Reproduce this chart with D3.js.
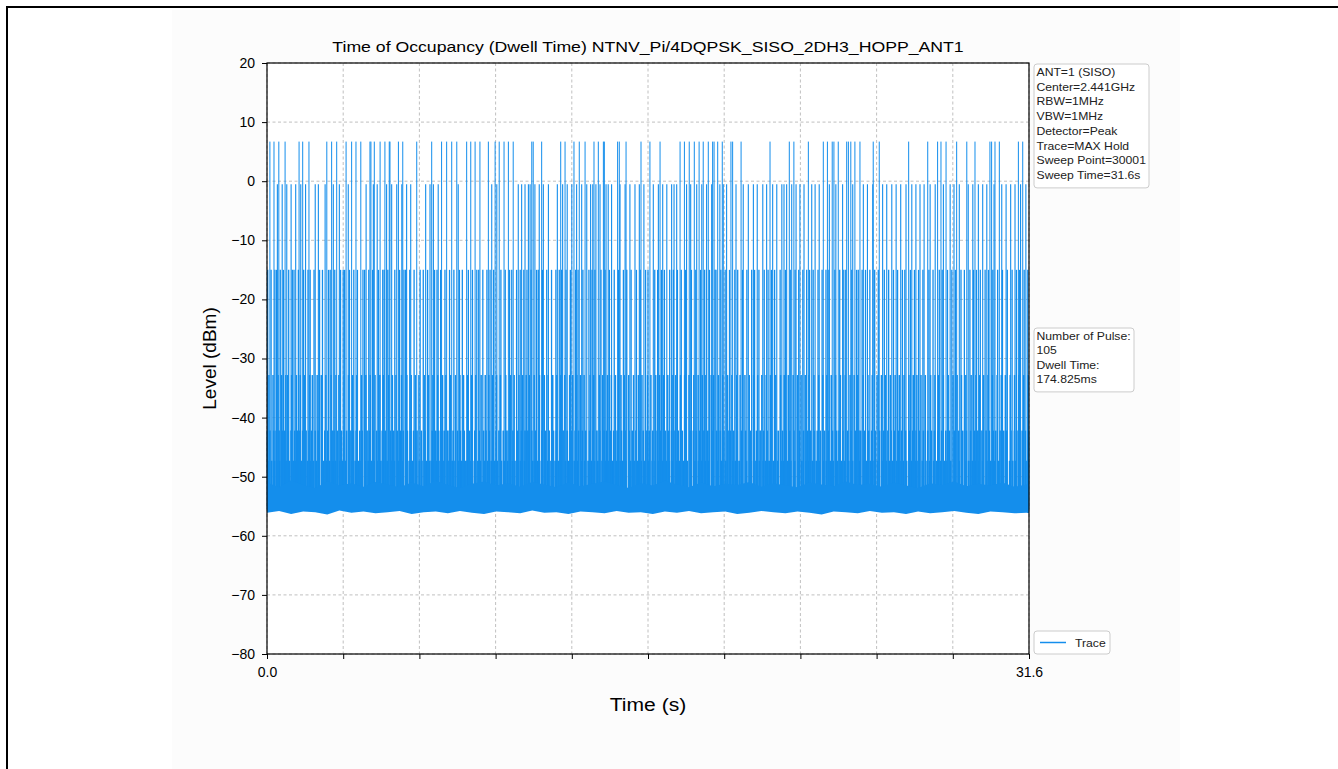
<!DOCTYPE html>
<html>
<head>
  <meta charset="utf-8">
  <script src="https://d3js.org/d3.v7.min.js"></script>
  <style>
    body { margin: 0; background: #fff; }
    * { font-family: 'Liberation Sans', Arial, sans-serif; }
  </style>
</head>
<body>
<div id="chart"></div>
<script>
  "use strict";

  // pulse start times (s), grouped by the level the trace reaches
  const peakTimes = [0.12,0.29,0.49,0.75,1.33,1.48,1.74,2.48,2.68,2.89,3.28,3.51,3.69,3.89,4.27,4.31,4.45,4.69,4.89,5.07,5.10,5.45,5.63,6.21,6.83,7.24,7.45,7.66,7.87,8.28,8.45,8.63,8.83,9.18,9.46,9.63,9.83,10.01,10.21,10.98,11.04,11.39,12.18,12.36,12.73,12.95,13.19,13.56,13.74,13.95,13.99,14.54,14.61,14.89,15.51,15.88,16.30,17.13,17.31,17.51,17.72,17.92,18.09,18.30,18.48,18.54,18.69,18.88,19.24,19.31,19.66,20.86,21.66,21.85,22.45,23.07,23.24,23.44,23.51,23.69,24.04,24.11,24.21,24.38,24.59,25.14,25.39,26.61,27.40,27.81,27.95,28.16,28.60,29.02,29.36,29.98,30.05,30.19,30.37,31.16,31.34];
  const nearTimes = [0.43,0.63,0.82,1.00,1.19,1.40,1.60,2.00,2.13,2.41,2.75,3.00,3.37,4.11,4.41,4.57,4.96,5.17,5.38,5.59,5.79,5.96,6.58,6.76,6.90,7.10,7.93,9.32,9.53,10.42,10.56,10.70,10.84,10.91,11.11,11.29,11.46,11.67,12.04,12.26,12.45,12.64,12.84,13.05,13.26,13.42,13.51,13.64,13.81,14.06,14.15,14.29,14.64,14.85,15.05,15.26,15.44,15.63,16.02,16.23,16.41,16.58,16.78,16.88,16.99,17.40,17.57,17.82,18.03,18.23,18.44,18.78,18.92,19.06,19.45,19.75,19.96,20.17,20.33,20.56,20.72,20.97,21.14,21.35,21.44,21.55,21.76,21.94,22.10,22.27,22.59,22.73,22.90,23.32,23.59,23.87,24.29,24.73,24.90,25.12,25.53,25.70,25.91,26.09,26.28,26.50,26.74,26.91,27.08,27.25,27.50,27.71,28.05,28.33,28.49,28.71,29.08,29.27,29.50,29.68,29.85,30.15,30.47,30.65,30.84,31.02,31.25,31.47];
  const sideTimes = [0.03,0.17,0.33,0.40,0.55,0.68,0.90,1.05,1.12,1.30,1.52,1.70,1.79,1.95,2.18,2.30,2.55,2.62,2.81,3.05,3.16,3.22,3.42,3.60,3.75,3.98,4.05,4.22,4.38,4.62,4.80,4.86,5.01,5.30,5.50,5.68,5.75,5.92,6.10,6.35,6.48,6.66,6.95,7.05,7.20,7.38,7.57,7.75,7.98,8.10,8.35,8.52,8.70,8.78,8.95,9.12,9.25,9.40,9.70,9.88,10.06,10.15,10.35,10.50,10.65,10.78,10.95,11.18,11.25,11.42,11.60,11.80,11.98,12.12,12.22,12.40,12.58,12.80,12.90,13.10,13.35,13.48,13.60,13.85,14.02,14.20,14.40,14.58,14.78,14.92,15.10,15.32,15.48,15.70,15.80,16.08,16.20,16.36,16.48,16.70,16.85,17.02,17.18,17.36,17.60,17.78,17.98,18.15,18.35,18.58,18.62,18.82,19.00,19.18,19.40,19.52,19.72,19.90,20.10,20.22,20.40,20.62,20.78,20.92,21.05,21.28,21.50,21.70,21.90,22.05,22.22,22.38,22.50,22.65,22.85,23.02,23.18,23.30,23.55,23.75,23.92,24.00,24.25,24.45,24.52,24.68,24.82,25.00,25.20,25.35,25.60,25.78,25.98,26.15,26.35,26.45,26.68,26.85,27.02,27.20,27.45,27.62,27.88,28.00,28.22,28.40,28.55,28.78,28.92,29.15,29.30,29.42,29.58,29.78,29.92,30.10,30.30,30.50,30.70,30.90,31.08,31.20,31.40,31.55];
  const deepTimes = [0.08,0.25,0.46,0.60,0.78,0.86,1.02,1.22,1.38,1.56,1.77,1.88,2.08,2.25,2.44,2.66,2.86,2.98,3.20,3.38,3.55,3.72,3.92,4.10,4.28,4.48,4.68,4.82,5.05,5.20,5.35,5.58,5.80,5.98,6.15,6.30,6.52,6.70,6.88,7.08,7.28,7.42,7.62,7.82,8.00,8.15,8.32,8.48,8.66,8.88,9.05,9.20,9.35,9.52,9.68,9.90,10.10,10.25,10.45,10.60,10.75,10.88,11.08,11.30,11.50,11.66,11.85,12.02,12.18,12.35,12.55,12.68,12.85,13.00,13.15,13.40,13.55,13.78,13.92,14.12,14.28,14.45,14.68,14.82,15.00,15.20,15.40,15.55,15.78,15.92,16.12,16.28,16.45,16.62,16.80,16.95,17.15,17.32,17.50,17.70,17.88,18.05,18.20,18.42,18.52,18.72,18.90,19.10,19.28,19.48,19.62,19.82,20.00,20.18,20.35,20.52,20.70,20.88,21.10,21.30,21.45,21.62,21.82,22.00,22.15,22.32,22.48,22.68,22.88,23.05,23.22,23.40,23.58,23.78,23.98,24.18,24.35,24.50,24.72,24.92,25.10,25.30,25.48,25.65,25.85,26.05,26.22,26.42,26.62,26.80,26.95,27.12,27.30,27.52,27.70,27.85,28.05,28.25,28.45,28.62,28.80,28.98,29.20,29.40,29.55,29.72,29.90,30.08,30.28,30.45,30.62,30.82,31.00,31.18,31.38,31.56];
  const midTimes = [0.02,0.12,0.28,0.38,0.50,0.65,0.74,0.88,1.00,1.15,1.25,1.35,1.48,1.62,1.74,1.85,2.00,2.12,2.28,2.40,2.52,2.70,2.78,2.92,3.08,3.18,3.30,3.48,3.58,3.70,3.85,3.95,4.15,4.25,4.40,4.55,4.65,4.78,4.90,5.12,5.25,5.40,5.55,5.65,5.82,5.95,6.08,6.22,6.40,6.55,6.68,6.85,7.00,7.12,7.25,7.35,7.50,7.60,7.72,7.90,8.02,8.18,8.40,8.50,8.62,8.80,8.98,9.08,9.22,9.38,9.50,9.62,9.80,9.95,10.05,10.20,10.40,10.55,10.70,10.82,10.98,11.15,11.28,11.40,11.55,11.70,11.88,12.00,12.15,12.28,12.45,12.62,12.78,12.92,13.08,13.22,13.38,13.52,13.68,13.80,13.98,14.08,14.25,14.38,14.52,14.70,14.85,15.02,15.15,15.30,15.45,15.60,15.72,15.85,16.00,16.18,16.32,16.52,16.65,16.78,16.92,17.05,17.22,17.38,17.55,17.68,17.80,17.95,18.12,18.28,18.45,18.65,18.80,18.95,19.12,19.22,19.35,19.50,19.68,19.85,20.05,20.20,20.30,20.45,20.60,20.75,20.92,21.08,21.20,21.38,21.52,21.68,21.85,22.08,22.25,22.42,22.55,22.70,22.82,22.95,23.12,23.28,23.45,23.62,23.72,23.88,24.08,24.22,24.40,24.55,24.62,24.78,24.95,25.08,25.22,25.40,25.58,25.75,25.88,26.02,26.20,26.32,26.48,26.65,26.78,26.92,27.05,27.22,27.40,27.55,27.68,27.82,27.98,28.15,28.30,28.50,28.68,28.85,29.00,29.18,29.35,29.48,29.65,29.82,29.95,30.12,30.22,30.40,30.55,30.68,30.85,31.00,31.15,31.32,31.45,31.58];
  const lowTimes = [0.06,0.19,0.31,0.44,0.52,0.63,0.80,0.93,1.08,1.20,1.32,1.42,1.58,1.68,1.82,1.92,2.04,2.15,2.33,2.48,2.60,2.74,2.84,3.02,3.14,3.26,3.40,3.52,3.66,3.78,3.90,4.08,4.20,4.33,4.44,4.60,4.72,4.84,4.98,5.14,5.28,5.45,5.62,5.78,5.90,6.02,6.18,6.32,6.42,6.60,6.74,6.82,6.92,7.02,7.18,7.34,7.48,7.55,7.68,7.80,7.95,8.08,8.25,8.42,8.60,8.75,8.85,9.00,9.15,9.30,9.45,9.55,9.72,9.86,9.98,10.18,10.28,10.42,10.52,10.68,10.86,11.02,11.12,11.22,11.38,11.52,11.64,11.78,11.95,12.08,12.20,12.38,12.52,12.66,12.75,12.88,13.05,13.18,13.32,13.45,13.58,13.72,13.90,14.05,14.18,14.32,14.48,14.65,14.75,14.88,15.08,15.22,15.35,15.52,15.65,15.82,15.98,16.10,16.25,16.40,16.55,16.68,16.82,16.98,17.10,17.28,17.42,17.58,17.75,17.90,18.02,18.18,18.32,18.50,18.68,18.85,19.02,19.20,19.32,19.42,19.58,19.70,19.88,20.08,20.28,20.42,20.58,20.68,20.82,21.00,21.18,21.32,21.42,21.58,21.72,21.88,22.02,22.18,22.35,22.45,22.62,22.78,22.92,23.08,23.20,23.35,23.48,23.65,23.82,23.95,24.12,24.28,24.42,24.58,24.75,24.88,25.02,25.18,25.32,25.50,25.68,25.82,25.95,26.12,26.25,26.38,26.52,26.72,26.88,27.00,27.18,27.32,27.48,27.65,27.78,27.92,28.08,28.20,28.35,28.52,28.70,28.82,28.95,29.10,29.25,29.38,29.52,29.68,29.85,30.02,30.18,30.35,30.48,30.65,30.80,30.92,31.05,31.22,31.36,31.52];

  // level (dBm) reached by each group and the drawn stroke width
  const groupLevels = { peak: 6.7, near: -0.5, side: -15.0, deep: -32.8, mid: -42.2, low: -47.3 };

  // noise floor band, read roughly every 0.5 s
  const floorTimes = [0,0.5,1,1.5,2,2.5,3,3.5,4,4.5,5,5.5,6,6.5,7,7.5,8,8.5,9,9.5,10,10.5,11,11.5,12,12.5,13,13.5,14,14.5,15,15.5,16,16.5,17,17.5,18,18.5,19,19.5,20,20.5,21,21.5,22,22.5,23,23.5,24,24.5,25,25.5,26,26.5,27,27.5,28,28.5,29,29.5,30,30.5,31,31.5,31.6];
  const floorLow = [-56.1,-55.8,-56.3,-55.9,-56.0,-56.4,-55.7,-56.1,-55.9,-56.2,-56.0,-55.8,-56.3,-56.0,-55.9,-56.2,-55.8,-56.1,-56.3,-55.9,-56.0,-56.2,-55.7,-56.1,-56.0,-56.3,-55.9,-56.0,-56.2,-55.8,-56.1,-56.0,-56.3,-55.9,-56.1,-55.8,-56.2,-56.0,-55.9,-56.3,-56.1,-55.8,-56.0,-56.2,-55.9,-56.1,-56.4,-55.9,-56.0,-56.2,-55.8,-56.1,-56.0,-56.3,-55.9,-56.2,-56.0,-55.8,-56.1,-56.3,-55.9,-56.0,-56.2,-56.1,-56.2];
  const floorHigh = [-51.0,-51.8,-50.6,-51.4,-51.9,-50.8,-51.5,-51.1,-51.7,-50.9,-51.3,-51.8,-51.0,-51.6,-50.7,-51.4,-51.9,-51.2,-50.8,-51.5,-51.1,-51.7,-50.9,-51.3,-51.8,-51.0,-51.6,-51.2,-50.8,-51.4,-51.9,-51.1,-51.5,-50.7,-51.3,-51.8,-51.0,-51.6,-51.2,-51.4,-50.9,-51.7,-51.1,-51.5,-51.8,-51.0,-51.3,-51.6,-50.8,-51.4,-51.2,-51.7,-51.0,-51.5,-51.9,-51.1,-51.4,-50.8,-51.6,-51.2,-51.5,-51.0,-51.7,-51.3,-51.4];

  const yTicks = [-80, -70, -60, -50, -40, -30, -20, -10, 0, 10, 20];
  const xTicks = [0, 3.16, 6.32, 9.48, 12.64, 15.8, 18.96, 22.12, 25.28, 28.44, 31.6];
  const xTickLabels = ["0.0", "", "", "", "", "", "", "", "", "", "31.6"];

  const infoLines = ["ANT=1 (SISO)", "Center=2.441GHz", "RBW=1MHz", "VBW=1MHz", "Detector=Peak", "Trace=MAX Hold", "Sweep Point=30001", "Sweep Time=31.6s"];
  const pulseLines = ["Number of Pulse:", "105", "Dwell Time:", "174.825ms"];

  const traceColor = "#148eec";
  const W = 1338, H = 769;
  const plotL = 267, plotR = 1029, plotT = 63, plotB = 654;
  const stretch = 1.11; // the source picture is a little wider than tall

  const svg = d3.select("#chart").append("svg")
    .attr("width", W).attr("height", H);

  // faint figure background and outer frame
  svg.append("rect").attr("x", 172).attr("y", 10).attr("width", 1008).attr("height", H - 10).attr("fill", "#fcfcfc");
  svg.append("path").attr("d", `M7,${H} V7 H${W}`).attr("fill", "none").attr("stroke", "#000").attr("stroke-width", 2);

  const x = d3.scaleLinear().domain([0, 31.6]).range([plotL, plotR]);
  const y = d3.scaleLinear().domain([-80, 20]).range([plotB, plotT]);

  svg.append("rect").attr("x", plotL).attr("y", plotT).attr("width", plotR - plotL).attr("height", plotB - plotT).attr("fill", "#fff");

  // grid
  const grid = svg.append("g").attr("stroke", "#b0b0b0").attr("stroke-width", 0.8).attr("stroke-dasharray", "3,2.5");
  grid.selectAll(".gy").data(yTicks).enter().append("line")
    .attr("x1", plotL).attr("x2", plotR).attr("y1", d => y(d)).attr("y2", d => y(d));
  grid.selectAll(".gx").data(xTicks).enter().append("line")
    .attr("y1", plotT).attr("y2", plotB).attr("x1", d => x(d)).attr("x2", d => x(d));

  // trace
  const plot = svg.append("g");
  const groups = [
    [lowTimes, groupLevels.low, 1.9],
    [midTimes, groupLevels.mid, 1.7],
    [deepTimes, groupLevels.deep, 1.5],
    [sideTimes, groupLevels.side, 1.3],
    [nearTimes, groupLevels.near, 1.1],
    [peakTimes, groupLevels.peak, 1.0]
  ];
  groups.forEach(([times, lvl, sw]) => {
    plot.append("g").selectAll("line").data(times).enter().append("line")
      .attr("x1", d => x(d)).attr("x2", d => x(d))
      .attr("y1", y(-55.5)).attr("y2", y(lvl))
      .attr("stroke", traceColor).attr("stroke-width", sw);
  });

  const band = d3.area()
    .x((d, i) => x(floorTimes[i]))
    .y0((d, i) => y(floorLow[i]))
    .y1((d, i) => y(floorHigh[i]));
  plot.append("path").datum(floorTimes).attr("d", band).attr("fill", traceColor);

  // frame
  svg.append("rect").attr("x", plotL).attr("y", plotT).attr("width", plotR - plotL).attr("height", plotB - plotT)
    .attr("fill", "none").attr("stroke", "#000").attr("stroke-width", 1.2);

  // axes
  const yAxis = d3.axisLeft(y).tickValues(yTicks).tickSize(5).tickPadding(7).tickFormat(d3.format("d"));
  const gy = svg.append("g").attr("transform", `translate(${plotL},0)`).call(yAxis);
  gy.select(".domain").remove();
  gy.selectAll("text").attr("font-size", 14).attr("fill", "#000").attr("font-family", "'Liberation Sans', Arial, sans-serif");

  const xAxis = d3.axisBottom(x).tickValues(xTicks).tickSize(5).tickPadding(8).tickFormat((d, i) => xTickLabels[i]);
  const gx = svg.append("g").attr("transform", `translate(0,${plotB})`).call(xAxis);
  gx.select(".domain").remove();
  gx.selectAll("text").attr("font-size", 14).attr("fill", "#000").attr("font-family", "'Liberation Sans', Arial, sans-serif");

  // text stretched sideways to match the source
  const wideText = (tx, ty, size, anchor, str, sx) => svg.append("g")
    .attr("transform", `translate(${tx},${ty}) scale(${sx},1)`)
    .append("text").attr("text-anchor", anchor).attr("font-size", size).text(str);

  wideText((plotL + plotR) / 2, 52, 15.5, "middle", "Time of Occupancy (Dwell Time) NTNV_Pi/4DQPSK_SISO_2DH3_HOPP_ANT1", 1.14);
  wideText((plotL + plotR) / 2, 711, 19, "middle", "Time (s)", stretch);
  svg.append("text").attr("transform", `translate(216,${(plotT + plotB) / 2}) rotate(-90)`).attr("text-anchor", "middle")
    .attr("font-size", 19).text("Level (dBm)");

  // info boxes
  const textBox = (bx, by, bw, lines, step) => {
    const g = svg.append("g");
    g.append("rect").attr("x", bx).attr("y", by).attr("width", bw).attr("height", (lines.length - 1) * step + 21)
      .attr("rx", 3).attr("fill", "#fff").attr("stroke", "#cccccc");
    lines.forEach((d, i) => {
      wideText(bx + 2.5, by + 12 + i * step, 11.5, "start", d, 1.06).attr("fill", "#222");
    });
  };
  textBox(1034, 64, 115, infoLines, 14.7);
  textBox(1034, 328, 100, pulseLines, 14.3);

  // legend
  const lg = svg.append("g");
  lg.append("rect").attr("x", 1034).attr("y", 631).attr("width", 76).attr("height", 23)
    .attr("rx", 3).attr("fill", "#fff").attr("stroke", "#cccccc");
  lg.append("line").attr("x1", 1040).attr("x2", 1066).attr("y1", 642.5).attr("y2", 642.5)
    .attr("stroke", traceColor).attr("stroke-width", 1.5);
  wideText(1075, 647, 11.5, "start", "Trace", 1.06).attr("fill", "#222");
</script>
</body>
</html>
